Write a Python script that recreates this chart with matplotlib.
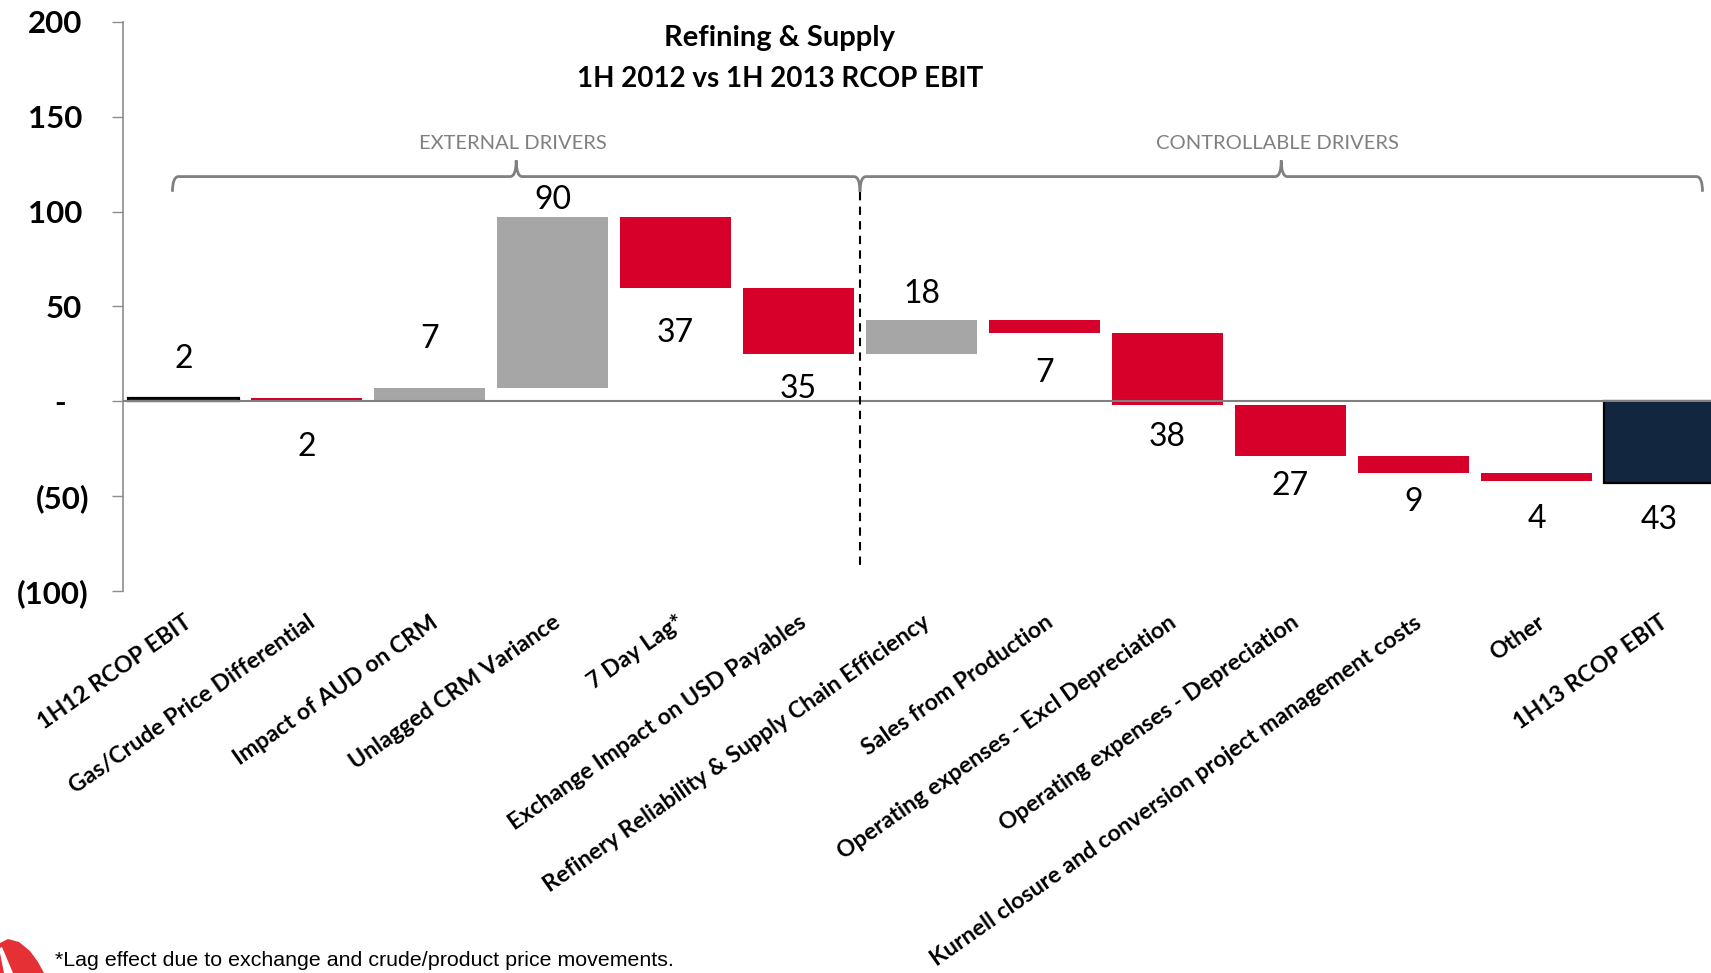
import matplotlib
matplotlib.use("Agg")
import matplotlib.pyplot as plt
from matplotlib.path import Path
from matplotlib.patches import PathPatch, Polygon
import matplotlib.transforms as mtransforms

plt.rcParams['font.family'] = ['Lato', 'DejaVu Sans']

# ---- data -------------------------------------------------------------
categories = [
    "1H12 RCOP EBIT",
    "Gas/Crude Price Differential",
    "Impact of AUD on CRM",
    "Unlagged CRM Variance",
    "7 Day Lag*",
    "Exchange Impact on USD Payables",
    "Refinery Reliability & Supply Chain Efficiency",
    "Sales from Production",
    "Operating expenses - Excl Depreciation",
    "Operating expenses - Depreciation",
    "Kurnell closure and conversion project management costs",
    "Other",
    "1H13 RCOP EBIT",
]
values = [2, -2, 7, 90, -37, -35, 18, -7, -38, -27, -9, -4, -43]
is_total = [True] + [False] * 11 + [True]

y_ticks = [200, 150, 100, 50, 0, -50, -100]
y_tick_labels = ["200", "150", "100", "50", "-", "(50)", "(100)"]

title_lines = ["Refining & Supply", "1H 2012 vs 1H 2013 RCOP EBIT"]
group_names = ["EXTERNAL DRIVERS", "CONTROLLABLE DRIVERS"]
footnote = "*Lag effect due to exchange and crude/product price movements."

# ---- styling ------------------------------------------------------------
RED = "#D6002A"
GREY = "#A6A6A6"
NAVY = "#12263F"
AXIS_GREY = "#8C8C8C"
BRACE_GREY = "#808080"
# distance (pixels) from bar end to the value label centre
label_gap = [39, 46, 49, 17, 45, 35, 26, 40, 32, 30, 29, 38, 37]

W, H = 1711, 973
fig = plt.figure(figsize=(W / 100, H / 100), dpi=100)
ax = fig.add_axes([123 / W, 1 - 591 / H, 1 - 123 / W, (591 - 22) / H])

# ---- waterfall bars ------------------------------------------------------
running = 0.0
bottoms, heights, colors = [], [], []
for v, tot in zip(values, is_total):
    if tot:
        bottoms.append(0.0)
        heights.append(v)
        colors.append(NAVY)
        running = v
    else:
        bottoms.append(running)
        heights.append(v)
        colors.append(GREY if v > 0 else RED)
        running += v

x = list(range(len(categories)))
bars = ax.bar(x, heights, bottom=bottoms, width=0.9, color=colors, zorder=2,
              linewidth=0)
for b, tot in zip(bars, is_total):
    if tot:
        b.set_edgecolor("black")
        b.set_linewidth(1.6)

# value labels
for xi, v, b0, gap in zip(x, values, bottoms, label_gap):
    top = max(b0, b0 + v)
    bot = min(b0, b0 + v)
    if v > 0:
        ax.annotate(f"{abs(v)}", (xi, top), xytext=(0, gap),
                    textcoords="offset pixels", ha="center", va="center",
                    fontsize=23, color="black")
    else:
        ax.annotate(f"{abs(v)}", (xi, bot), xytext=(0, -gap),
                    textcoords="offset pixels", ha="center", va="center",
                    fontsize=23, color="black")

ax.axhline(0, color="#808080", lw=1.5, zorder=3)

# ---- axes ----------------------------------------------------------------
ax.set_xlim(-0.492, 12.419)
ax.set_ylim(-100, 200)
for s in ("top", "right", "bottom"):
    ax.spines[s].set_visible(False)
ax.spines["left"].set_color(AXIS_GREY)
ax.spines["left"].set_linewidth(1.2)

ax.set_yticks(y_ticks)
ax.set_yticklabels(y_tick_labels, fontsize=22.5, fontweight="bold")
ax.tick_params(axis="y", direction="out", length=8, width=1.0,
               color=AXIS_GREY, pad=16.5)
for lab in ax.get_yticklabels():
    t = lab.get_text()
    if t == "-":
        shift = -23
    elif "(" in t:
        shift = 0
    else:
        shift = -7
    lab.set_transform(lab.get_transform() +
                      mtransforms.ScaledTranslation(shift / 100, 0,
                                                    fig.dpi_scale_trans))

ax.set_xticks(x)
ax.set_xticklabels(categories, rotation=35, ha="right", va="top",
                   rotation_mode="anchor", fontsize=16.7, fontweight="bold")
ax.tick_params(axis="x", length=0, pad=15)

# ---- divider and group braces -----------------------------------------
ax.plot([5.5, 5.5], [110.5, -87.5], color="black", lw=1.5,
        ls=(0, (4, 3)), zorder=4, clip_on=False)


def brace(x0, x1, y_line, y_tip, y_peak, r=0.05):
    xm = (x0 + x1) / 2
    verts = [
        (x0, y_tip),
        (x0, y_line), (x0 + r, y_line),
        (xm - r, y_line),
        (xm, y_line), (xm, y_peak),
        (xm, y_line), (xm + r, y_line),
        (x1 - r, y_line),
        (x1, y_line), (x1, y_tip),
    ]
    codes = [Path.MOVETO,
             Path.CURVE3, Path.CURVE3,
             Path.LINETO,
             Path.CURVE3, Path.CURVE3,
             Path.CURVE3, Path.CURVE3,
             Path.LINETO,
             Path.CURVE3, Path.CURVE3]
    ax.add_patch(PathPatch(Path(verts, codes), fill=False,
                           edgecolor=BRACE_GREY, lw=2, clip_on=False,
                           zorder=4))
    return xm


m1 = brace(-0.09, 5.5, 118.5, 110.5, 127.0)
m2 = brace(5.5, 12.35, 118.5, 110.5, 127.0)
ax.text(m1 - 0.03, 136.0, group_names[0], ha="center", va="center",
        fontsize=14.5, color=BRACE_GREY)
ax.text(m2 - 0.03, 136.0, group_names[1], ha="center", va="center",
        fontsize=14.5, color=BRACE_GREY)

# ---- title ---------------------------------------------------------------
fig.text(780 / W, 1 - 38 / H, title_lines[0], ha="center", va="center",
         fontsize=21, fontweight="bold")
fig.text(780 / W, 1 - 79 / H, title_lines[1], ha="center", va="center",
         fontsize=20, fontweight="bold")

# ---- footnote and corner emblem ----------------------------------------
fig.text(55 / W, 1 - 960 / H, footnote, ha="left", va="center",
         fontsize=15.4, family=["Liberation Sans", "DejaVu Sans"])


def fpx(px, py):
    return (px / W, 1 - py / H)


emblem = [fpx(0, 943), fpx(8, 939), fpx(19, 942), fpx(30, 951),
          fpx(38, 962), fpx(44, 973), fpx(13, 973), fpx(2, 947), fpx(0, 948)]
fig.patches.append(Polygon(emblem, closed=True, transform=fig.transFigure,
                           facecolor="#E53035", edgecolor="none"))
fig.patches.append(Polygon([fpx(0, 953), fpx(4, 973), fpx(0, 973)],
                           closed=True, transform=fig.transFigure,
                           facecolor="#E53035", edgecolor="none"))

fig.savefig("out.png", dpi=100)
